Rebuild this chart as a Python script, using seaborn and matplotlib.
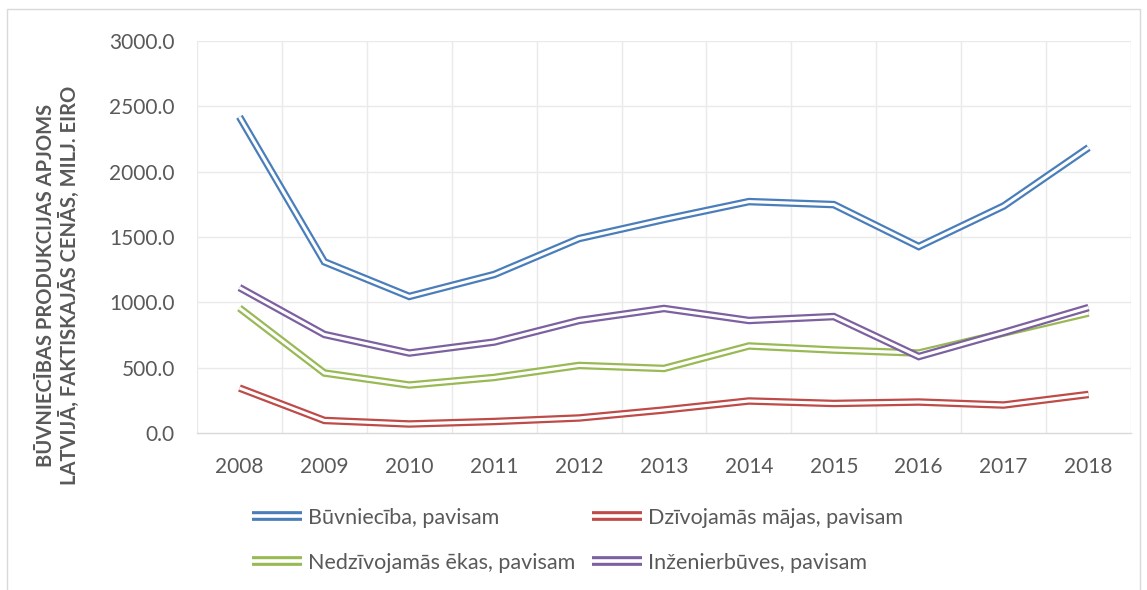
import matplotlib
matplotlib.use("Agg")
import matplotlib.pyplot as plt
import matplotlib.patheffects as pe
from matplotlib.lines import Line2D
import pandas as pd
import seaborn as sns

# --- Data ---
years = [2008, 2009, 2010, 2011, 2012, 2013, 2014, 2015, 2016, 2017, 2018]
buvnieciba = [2420, 1310, 1045, 1213, 1488, 1634, 1771, 1748, 1427, 1737, 2184]
dzivojamas = [344, 96, 69, 88, 115, 176, 245, 226, 237, 214, 295]
nedzivojamas = [956, 459, 367, 425, 517, 494, 666, 635, 612, 765, 918]
inzenierbuves = [1113, 754, 612, 696, 861, 953, 861, 891, 585, 769, 960]

series_names = ["Būvniecība, pavisam", "Dzīvojamās mājas, pavisam",
                "Nedzīvojamās ēkas, pavisam", "Inženierbūves, pavisam"]
series_values = [buvnieciba, dzivojamas, nedzivojamas, inzenierbuves]
colors = ["#4A7EBB", "#BE4B48", "#98B954", "#7D60A0"]

y_ticks = [0, 500, 1000, 1500, 2000, 2500, 3000]
y_label = "BŪVNIECĪBAS PRODUKCIJAS APJOMS\nLATVIJĀ, FAKTISKAJĀS CENĀS, MILJ. EIRO"

TEXT_COLOR = "#595959"
GRID_COLOR = "#EAEAEA"

sns.set_theme(style="white")
plt.rcParams['font.family'] = ['Lato', 'DejaVu Sans']

fig = plt.figure(figsize=(11.47, 5.90), dpi=100)
ax = fig.add_axes([197 / 1147, 1 - 433 / 590, (1131 - 197) / 1147, (433 - 41) / 590])

# outer chart border
fig.add_artist(plt.Rectangle((7 / 1147, -0.05), (1140 - 7) / 1147, 1.05 - 9 / 590,
                             transform=fig.transFigure, fill=False,
                             edgecolor="#D9D9D9", linewidth=1.0))


def double_line(col, outer=5.4, inner=2.2):
    # Excel-style double line: thick coloured stroke with a white core, flat ends
    return dict(color="white", linewidth=inner, solid_capstyle="butt",
                solid_joinstyle="miter",
                path_effects=[pe.Stroke(linewidth=outer, foreground=col,
                                        capstyle="butt", joinstyle="miter"),
                              pe.Normal()])


positions = list(range(len(years)))
for name, vals, col in zip(series_names, series_values, colors):
    df = pd.DataFrame({"pos": positions, "value": vals})
    sns.lineplot(data=df, x="pos", y="value", ax=ax, legend=False, **double_line(col))

ax.set_xlim(-0.5, len(years) - 0.5)
ax.set_ylim(0, 3000)
ax.set_yticks(y_ticks)
ax.set_yticklabels([f"{v:.1f}" for v in y_ticks])
ax.set_xticks(positions)
ax.set_xticklabels([str(y) for y in years])

ax.grid(False)
for v in y_ticks[1:]:
    ax.axhline(v, color=GRID_COLOR, linewidth=1.0, zorder=0)
for p in [p - 0.5 for p in positions] + [len(years) - 0.5]:
    ax.axvline(p, color=GRID_COLOR, linewidth=1.0, zorder=0)

for s in ["top", "left", "right"]:
    ax.spines[s].set_visible(False)
ax.spines["bottom"].set_color("#D9D9D9")
ax.spines["bottom"].set_linewidth(1.0)

ax.tick_params(axis="both", which="both", length=0, labelsize=15, colors=TEXT_COLOR)
ax.tick_params(axis="y", pad=16)
ax.tick_params(axis="x", pad=17)
ax.set_xlabel("")
ax.set_ylabel("")

fig.text(58 / 1147, 1 - 285 / 590, y_label, rotation=90, ha="center", va="center",
         fontsize=14.5, fontweight="bold", color=TEXT_COLOR, linespacing=1.2)

# legend: two columns placed like the original
handles = [Line2D([], [], **double_line(c, outer=7.0, inner=2.6)) for c in colors]
leg_kw = dict(loc="upper left", ncol=1, frameon=False, fontsize=15.5, handlelength=2.3,
              handletextpad=0.3, labelspacing=1.15, borderaxespad=0, borderpad=0,
              labelcolor=TEXT_COLOR)
fig.legend([handles[0], handles[2]], [series_names[0], series_names[2]],
           bbox_to_anchor=(252 / 1147, 1 - 508 / 590), **leg_kw)
fig.legend([handles[1], handles[3]], [series_names[1], series_names[3]],
           bbox_to_anchor=(592 / 1147, 1 - 508 / 590), **leg_kw)

fig.savefig("out.png", dpi=100)
